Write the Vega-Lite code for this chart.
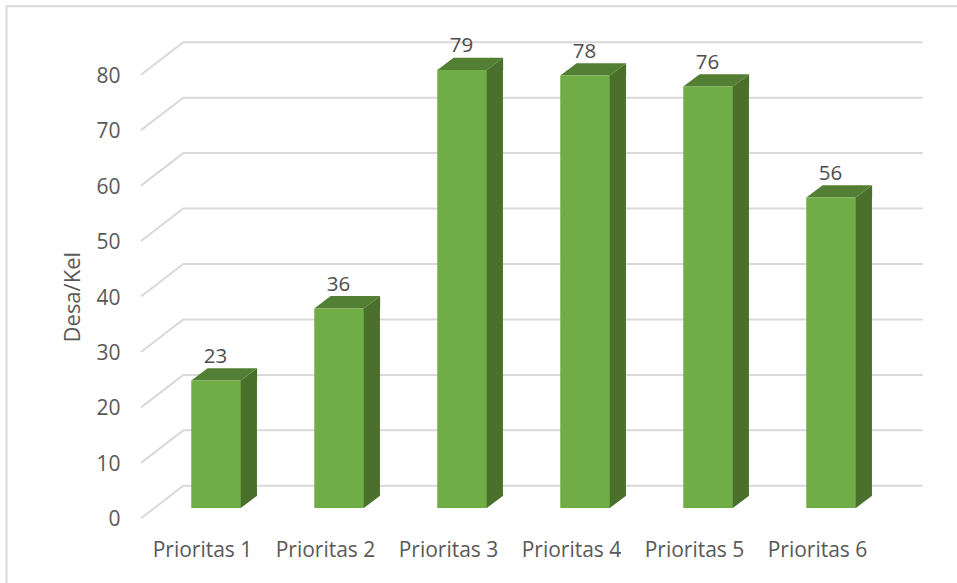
{
"$schema":"https://vega.github.io/schema/vega-lite/v6.json",
"width":738,"height":443.6,
"autosize":{"type":"none"},
"padding":{"left":141,"top":74.7,"right":78,"bottom":64.7},
"background":"white",
"config":{"view":{"stroke":null},"font":"Open Sans"},
"datasets":{
"bars":[{"prioritas":"Prioritas 1","desa":23},{"prioritas":"Prioritas 2","desa":36},{"prioritas":"Prioritas 3","desa":79},{"prioritas":"Prioritas 4","desa":78},{"prioritas":"Prioritas 5","desa":76},{"prioritas":"Prioritas 6","desa":56}],
"ticks":[{"tick":0},{"tick":10},{"tick":20},{"tick":30},{"tick":40},{"tick":50},{"tick":60},{"tick":70},{"tick":80}]
},
"data":{"name":"bars"},
"encoding":{
"x":{"field":"prioritas","type":"nominal","scale":{"type":"band","paddingInner":0,"paddingOuter":0},"sort":null,
"axis":{"title":null,"domain":false,"ticks":false,"labelAngle":0,"labelFontSize":21,"labelColor":"#595959","labelPadding":21,"labelFont":"Open Sans"}},
"y":{"field":"desa","type":"quantitative","scale":{"domain":[0,80],"nice":false},
"axis":{"title":"Desa/Kel","grid":false,"domain":false,"ticks":false,"tickCount":9,"labelFontSize":21,"labelColor":"#595959","labelPadding":21,"labelOffset":1.5,"labelFont":"Open Sans","titleFontSize":22,"titleFontWeight":"normal","titleColor":"#595959","titleFont":"Open Sans","titleX":-62,"titleY":222,"titleBaseline":"alphabetic"}}
},
"layer":[
{"data":{"name":"ticks"},"transform":[{"filter":"datum.tick == 80"}],
 "mark":{"type":"point","shape":"M-134.5,520 L-134.5,-68.5 L830,-68.5","size":4,"filled":false,"stroke":"#d9d9d9","strokeWidth":2,"opacity":1},
 "encoding":{"x":{"datum":"Prioritas 1","bandPosition":0},"y":{"field":"tick","type":"quantitative"}}},
{"data":{"name":"ticks"},
 "mark":{"type":"point","shape":"M0,0 L42.3,-32.5 L781.7,-32.5","size":4,"filled":false,"stroke":"#d9d9d9","strokeWidth":2,"opacity":1},
 "encoding":{"x":{"datum":"Prioritas 1","bandPosition":0},"y":{"field":"tick","type":"quantitative"}}},
{"mark":{"type":"bar","width":17.3,"xOffset":45.8,"yOffset":-10.3,"y2Offset":-22.6,"color":"#4a702c"},
 "encoding":{"y2":{"datum":0}}},
{"mark":{"type":"point","shape":"M37.3,-10.3 L38.3,-10.3 L54.6,-22.6 L54.6,-23.6 L37.3,-23.6 Z","size":4,"filled":true,"color":"#4a702c","strokeWidth":0,"opacity":1},
 "encoding":{"y":{"datum":0}}},
{"mark":{"type":"point","shape":"M-11.2,-10.3 L38.3,-10.3 L54.6,-22.6 L5.1,-22.6 Z","size":4,"filled":true,"color":"#527f33","strokeWidth":0,"opacity":1}},
{"mark":{"type":"point","shape":"M38.3,-10.3 L54.6,-22.6 L54.6,-9.3 L38.3,-9.3 Z","size":4,"filled":true,"color":"#4a702c","strokeWidth":0,"opacity":1}},
{"mark":{"type":"bar","width":49.5,"xOffset":13.5,"yOffset":-10.3,"y2Offset":-10.3,"color":"#70ad47"},
 "encoding":{"y2":{"datum":0}}},
{"mark":{"type":"text","fontSize":20.5,"color":"#4d4d4d","font":"Open Sans","xOffset":13,"yOffset":-28,"baseline":"alphabetic"},
 "encoding":{"text":{"field":"desa","type":"quantitative"}}}
]
}
